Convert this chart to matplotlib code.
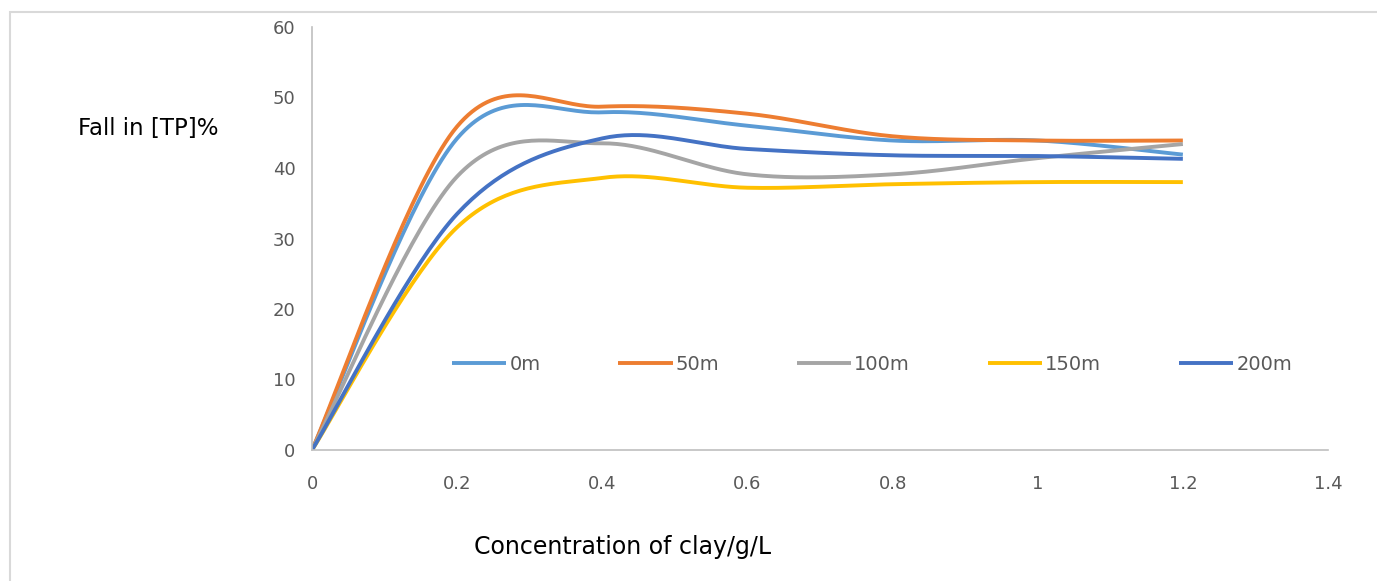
import numpy as np
import matplotlib
matplotlib.use("Agg")
import matplotlib.pyplot as plt
from matplotlib.patches import Rectangle

# data
conc = [0, 0.2, 0.4, 0.6, 0.8, 1.0, 1.2]
fall_0m = [0, 44.2, 47.9, 46.0, 43.9, 43.9, 41.9]
fall_50m = [0, 45.9, 48.7, 47.7, 44.5, 43.9, 43.9]
fall_100m = [0, 38.8, 43.5, 39.1, 39.1, 41.4, 43.4]
fall_150m = [0, 31.6, 38.6, 37.2, 37.7, 38.0, 38.0]
fall_200m = [0, 33.5, 44.2, 42.7, 41.8, 41.7, 41.3]

series = [
    ("0m", fall_0m, "#5B9BD5"),
    ("50m", fall_50m, "#ED7D31"),
    ("100m", fall_100m, "#A5A5A5"),
    ("150m", fall_150m, "#FFC000"),
    ("200m", fall_200m, "#4472C4"),
]


def smooth(xs, ys, n=40):
    # excel-like smoothed line: catmull-rom as cubic bezier segments
    p = np.column_stack([xs, ys]).astype(float)
    p = np.vstack([p[0], p, p[-1]])
    t = np.linspace(0, 1, n)[:, None]
    out = []
    for i in range(1, len(p) - 2):
        p0, p1, p2, p3 = p[i - 1], p[i], p[i + 1], p[i + 2]
        c1 = p1 + (p2 - p0) / 6
        c2 = p2 - (p3 - p1) / 6
        seg = ((1 - t) ** 3) * p1 + 3 * ((1 - t) ** 2) * t * c1 + 3 * (1 - t) * t ** 2 * c2 + t ** 3 * p2
        out.append(seg if i == 1 else seg[1:])
    out = np.vstack(out)
    return out[:, 0], out[:, 1]


plt.rcParams['font.family'] = ['DejaVu Sans']

fig = plt.figure(figsize=(13.77, 5.81), dpi=100)
ax = fig.add_axes([312 / 1377, 1 - 450 / 581, (1328 - 312) / 1377, (450 - 27) / 581])

for name, vals, col in series:
    sx, sy = smooth(conc, vals)
    ax.plot(sx, sy, color=col, lw=2.8, label=name, solid_capstyle='butt')

ax.set_xlim(0, 1.4)
ax.set_ylim(0, 60)
ax.set_xticks([0, 0.2, 0.4, 0.6, 0.8, 1, 1.2, 1.4])
ax.set_xticklabels(["0", "0.2", "0.4", "0.6", "0.8", "1", "1.2", "1.4"])
ax.set_yticks([0, 10, 20, 30, 40, 50, 60])
ax.tick_params(length=0, labelsize=13, colors="#595959")
ax.tick_params(axis='y', pad=12)
ax.tick_params(axis='x', pad=18)
for s in ["top", "right"]:
    ax.spines[s].set_visible(False)
ax.spines["left"].set_color("#BFBFBF")
ax.spines["bottom"].set_color("#BFBFBF")
ax.spines["left"].set_linewidth(1.2)
ax.spines["bottom"].set_linewidth(1.2)

fig.text(148 / 1377, 1 - 128 / 581, "Fall in [TP]%", fontsize=16.5, ha="center", va="center", color="black")
fig.text(623 / 1377, 1 - 547 / 581, "Concentration of clay/g/L", fontsize=17, ha="center", va="center", color="black")

ax.legend(loc="center", bbox_to_anchor=(872 / 1377, 1 - 364 / 581), bbox_transform=fig.transFigure,
          ncol=5, frameon=False, fontsize=14, handlelength=2.8, columnspacing=4.0,
          handletextpad=0.15, labelcolor="#595959")

fig.patches.append(Rectangle((10 / 1377, -0.01), 1.1, 1 - 12 / 581 + 0.01, transform=fig.transFigure,
                             fill=False, edgecolor="#D9D9D9", lw=1.5))

fig.savefig("out.png", dpi=100)
